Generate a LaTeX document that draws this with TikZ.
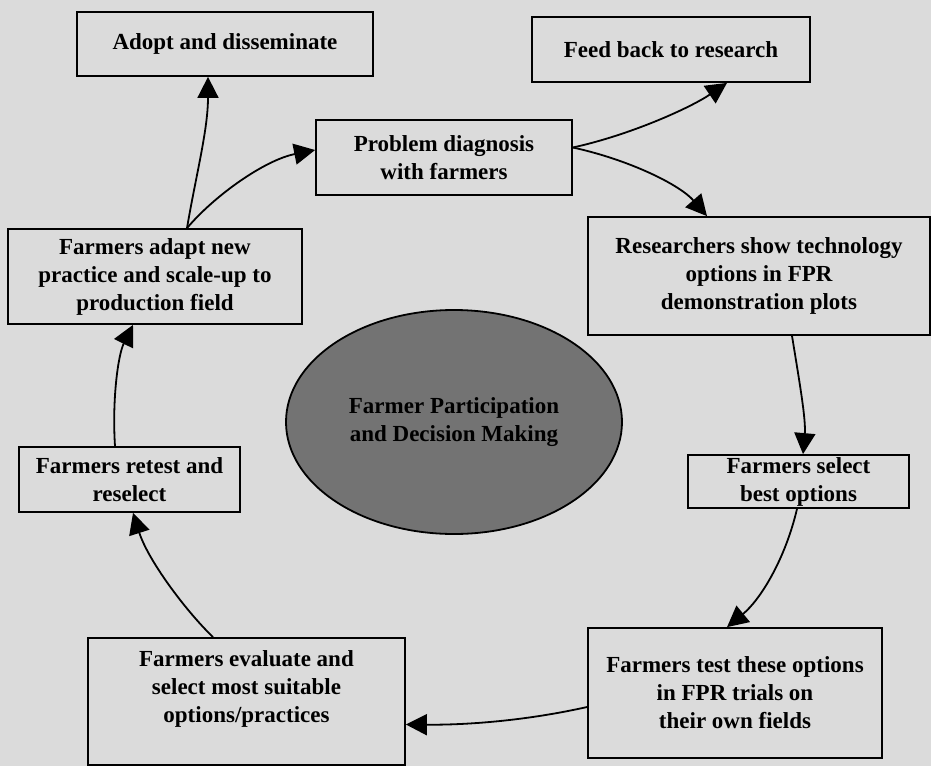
\documentclass[tikz,border=0pt]{standalone}
\usepackage{fontspec}
\setmainfont{Liberation Serif}
\usetikzlibrary{arrows.meta,shapes.geometric}
\definecolor{bgcol}{gray}{0.86}
\definecolor{ellcol}{gray}{0.45}
\begin{document}
\begin{tikzpicture}[x=1pt,y=-1pt,
  box/.style={draw=black, line width=1.8pt, rectangle, align=center, inner sep=0pt,
    font=\bfseries\fontsize{23}{28}\selectfont},
  flow/.style={line width=1.8pt, -{Triangle[length=21pt,width=21pt]}},
]
\fill[bgcol] (0,0) rectangle (931,766);
\useasboundingbox (0,0) rectangle (931,766);

\node[box, minimum width=296pt, minimum height=64pt] (adopt) at (225,44) {Adopt and disseminate};
\node[box, minimum width=278pt, minimum height=65pt] (feed) at (671,49.5) {Feed back to research};
\node[box, minimum width=256pt, minimum height=75pt] (prob) at (444,157.5) {Problem diagnosis\\with farmers};
\node[box, minimum width=294pt, minimum height=95pt] (adapt) at (155,276.5) {Farmers adapt new\\practice and scale-up to\\production field};
\node[box, minimum width=342pt, minimum height=118pt] (research) at (759,276) {Researchers show technology\\options in FPR\\demonstration plots};
\node[box, minimum width=221pt, minimum height=65pt] (retest) at (129.5,479.5) {Farmers retest and\\reselect};
\node[box, minimum width=221pt, minimum height=53pt] (select) at (798.5,481.5) {Farmers select\\best options};
\node[box, minimum width=317pt, minimum height=127pt] (evaluate) at (246.5,701.5)
  {\raisebox{6pt}[0pt][0pt]{\begin{tabular}{@{}c@{}}Farmers evaluate and\\select most suitable\\options/practices\end{tabular}}};
\node[box, minimum width=294pt, minimum height=130pt] (test) at (735,693) {Farmers test these options\\in FPR trials on\\their own fields};

\node[ellipse, draw=black, line width=1.8pt, fill=ellcol, minimum width=336pt, minimum height=224pt,
  align=center, inner sep=0pt, font=\bfseries\fontsize{23}{28}\selectfont] (core) at (454,422)
  {Farmer Participation\\and Decision Making};

\draw[flow] ([yshift=10pt]prob.east) .. controls (630,135) and (690,108) .. ([xshift=56pt]feed.south);
\draw[flow] ([yshift=10pt]prob.east) .. controls (630,160) and (680,185) .. ([xshift=-52pt]research.north);
\draw[flow] ([xshift=33pt]research.south) .. controls (800,385) and (806,420) .. ([xshift=4.5pt]select.north);
\draw[flow] ([xshift=-1.5pt]select.south) .. controls (785,560) and (760,600) .. ([xshift=-8pt]test.north);
\draw[flow] ([yshift=-14pt]test.west) .. controls (520,722) and (460,725) .. ([yshift=-23pt]evaluate.east);
\draw[flow] ([xshift=-33.5pt]evaluate.north) .. controls (185,610) and (148,560) .. ([xshift=3.5pt]retest.south);
\draw[flow] ([xshift=-14.5pt]retest.north) .. controls (112,400) and (118,355) .. ([xshift=-22pt]adapt.south);
\draw[flow] ([xshift=32pt]adapt.north) .. controls (196,175) and (208,130) .. ([xshift=-17pt]adopt.south);
\draw[flow] ([xshift=32pt]adapt.north) .. controls (215,195) and (265,160) .. ([yshift=7.5pt]prob.west);
\end{tikzpicture}
\end{document}
